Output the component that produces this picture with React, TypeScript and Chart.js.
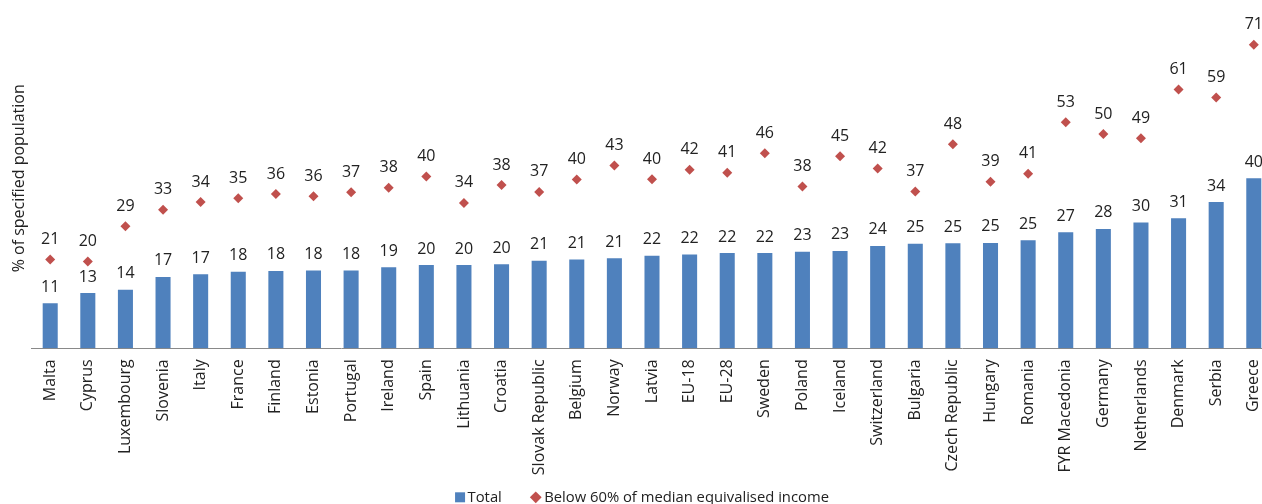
import React, { useEffect, useRef } from "react";
import { Chart, registerables } from "chart.js";

Chart.register(...registerables);

const categories: string[] = [
  "Malta", "Cyprus", "Luxembourg", "Slovenia", "Italy", "France", "Finland", "Estonia",
  "Portugal", "Ireland", "Spain", "Lithuania", "Croatia", "Slovak Republic", "Belgium",
  "Norway", "Latvia", "EU-18", "EU-28", "Sweden", "Poland", "Iceland", "Switzerland",
  "Bulgaria", "Czech Republic", "Hungary", "Romania", "FYR Macedonia", "Germany",
  "Netherlands", "Denmark", "Serbia", "Greece",
];

const totalValues: number[] = [
  10.6, 13.0, 13.8, 16.8, 17.4, 18.0, 18.2, 18.3, 18.3, 19.1, 19.6, 19.6, 19.8, 20.6,
  20.9, 21.2, 21.8, 22.1, 22.4, 22.4, 22.7, 22.9, 24.1, 24.6, 24.7, 24.8, 25.4, 27.3,
  28.1, 29.6, 30.6, 34.4, 40.0,
];

const below60Values: number[] = [
  20.9, 20.4, 28.7, 32.6, 34.4, 35.3, 36.3, 35.8, 36.7, 37.8, 40.4, 34.2, 38.4, 36.8,
  39.7, 43.0, 39.8, 42.0, 41.3, 45.9, 38.1, 45.2, 42.3, 36.9, 48.0, 39.2, 41.1, 53.2,
  50.4, 49.4, 60.9, 59.0, 71.4,
];

const seriesNames: string[] = ["Total", "Below 60% of median equivalised income"];
const seriesColors: string[] = ["#4F81BD", "#C0504D"];
const yAxisTitle = "% of specified population";

const CANVAS_W = 1284;
const CANVAS_H = 504;
const AREA_BOTTOM = 348.3;
const FONT = "'Open Sans', sans-serif";
const TEXT_COLOR = "#222222";

const labelPlugin = {
  id: "valueLabels",
  afterDatasetsDraw(chart: any) {
    const ctx = chart.ctx;
    ctx.save();
    ctx.font = `16px ${FONT}`;
    ctx.fillStyle = TEXT_COLOR;
    ctx.textAlign = "center";
    ctx.textBaseline = "alphabetic";
    chart.data.datasets.forEach((ds: any, di: number) => {
      const meta = chart.getDatasetMeta(di);
      const off = di === 0 ? 11.5 : 15.5;
      meta.data.forEach((el: any, i: number) => {
        const v = Math.round(ds.data[i]);
        ctx.fillText(String(v), el.x, el.y - off);
      });
    });
    ctx.restore();
  },
};

const legendPlugin = {
  id: "bottomLegend",
  afterDraw(chart: any) {
    const ctx = chart.ctx;
    ctx.save();
    ctx.font = `14.8px ${FONT}`;
    ctx.textBaseline = "alphabetic";
    ctx.textAlign = "left";
    const box = 10;
    const dia = 5.9;
    const gapText = 2.5;
    const gapItem = 28;
    const w0 = ctx.measureText(seriesNames[0]).width;
    const w1 = ctx.measureText(seriesNames[1]).width;
    const total = box + gapText + w0 + gapItem + dia * 2 + gapText + w1;
    let x = chart.width / 2 - total / 2;
    const cy = 497.3;
    const baseY = 502;
    ctx.fillStyle = seriesColors[0];
    ctx.fillRect(x, cy - box / 2, box, box);
    x += box + gapText;
    ctx.fillStyle = TEXT_COLOR;
    ctx.fillText(seriesNames[0], x, baseY);
    x += w0 + gapItem;
    ctx.fillStyle = seriesColors[1];
    ctx.beginPath();
    ctx.moveTo(x, cy);
    ctx.lineTo(x + dia, cy - dia);
    ctx.lineTo(x + dia * 2, cy);
    ctx.lineTo(x + dia, cy + dia);
    ctx.closePath();
    ctx.fill();
    x += dia * 2 + gapText;
    ctx.fillStyle = TEXT_COLOR;
    ctx.fillText(seriesNames[1], x, baseY);
    ctx.restore();
  },
};

export default function App() {
  const ref = useRef<HTMLCanvasElement | null>(null);

  useEffect(() => {
    if (!ref.current) return;
    Chart.defaults.font.family = FONT;
    const chart = new Chart(ref.current, {
      type: "bar",
      data: {
        labels: categories,
        datasets: [
          {
            type: "bar",
            label: seriesNames[0],
            data: totalValues,
            backgroundColor: seriesColors[0],
            barPercentage: 0.4,
            categoryPercentage: 1,
          } as any,
          {
            type: "line",
            label: seriesNames[1],
            data: below60Values,
            showLine: false,
            pointStyle: "rectRot",
            pointRadius: 5,
            pointBorderWidth: 0,
            backgroundColor: seriesColors[1],
            borderColor: seriesColors[1],
          } as any,
        ],
      },
      options: {
        animation: false,
        responsive: false,
        layout: { padding: { top: 8.3, left: 0, right: 11.4, bottom: 0 } },
        plugins: {
          tooltip: { enabled: false },
          legend: { display: false },
        },
        scales: {
          x: {
            grid: { display: false },
            border: { display: true, color: "#898989", width: 1 },
            ticks: {
              color: TEXT_COLOR,
              font: { size: 16 },
              maxRotation: 90,
              minRotation: 90,
              autoSkip: false,
            },
            afterFit: (s: any) => {
              s.height = CANVAS_H - AREA_BOTTOM;
            },
          },
          y: {
            min: 0,
            max: 80,
            grid: { display: false },
            border: { display: false },
            ticks: { display: false },
            title: {
              display: true,
              text: yAxisTitle,
              color: TEXT_COLOR,
              font: { size: 16 },
              padding: { top: 10, bottom: 0 },
            },
            afterFit: (s: any) => {
              s.width = 31.4;
            },
          },
        },
      },
      plugins: [labelPlugin, legendPlugin],
    });
    return () => chart.destroy();
  }, []);

  return (
    <div style={{ position: "fixed", left: 0, top: 0, width: 1262, height: 504, overflow: "hidden", background: "#fff" }}>
      <canvas ref={ref} width={CANVAS_W} height={CANVAS_H} style={{ display: "block" }} />
    </div>
  );
}
